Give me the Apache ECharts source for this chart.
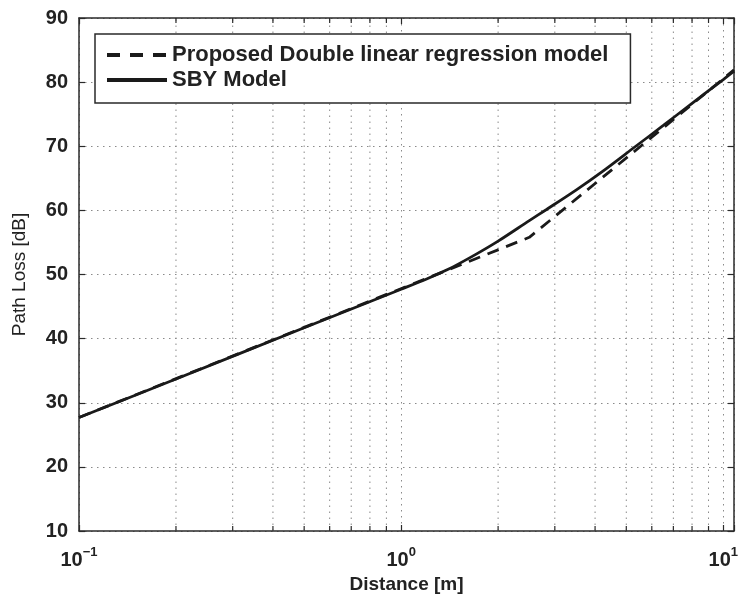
<!DOCTYPE html>
<html>
<head>
<meta charset="utf-8">
<script src="https://cdn.jsdelivr.net/npm/echarts@6/dist/echarts.min.js"></script>
<style>
  html, body { margin: 0; padding: 0; background: #ffffff; }
  #chart { width: 741px; height: 599px; }
</style>
</head>
<body>
<div id="chart"></div>
<script>
// Path loss versus distance: SBY model and the double linear regression fit
const sbyDistance = [0.1, 0.2, 0.5, 1.0, 1.2, 1.4, 1.7, 2.0, 2.5, 2.82, 3.5, 4.2, 5.35, 6.5, 8.0, 10.0, 10.8];
const sbyLoss     = [27.7, 33.7, 41.7, 47.7, 49.3, 50.8, 53.1, 55.2, 58.4, 60.1, 63.2, 66.0, 70.0, 73.2, 76.7, 80.4, 81.7];

// Double linear regression: two straight segments on the log-distance scale
const dlrDistance = [0.1, 2.5, 10.8];
const dlrLoss     = [27.7, 55.8, 81.9];

const seriesNames = ['Proposed Double linear regression model', 'SBY Model'];

// Axis ranges and minor log grid positions
const xRange = [0.1, 10.8];
const yRange = [10, 90];
const yStep = 10;
const minorTicks = [0.2, 0.3, 0.4, 0.5, 0.6, 0.7, 0.8, 0.9, 2, 3, 4, 5, 6, 7, 8, 9];

const ink = '#1a1a1a';
const axisInk = '#2a2a2a';
const gridInk = '#8a8a8a';
const font = '"Liberation Sans", Arial, Helvetica, sans-serif';

function pairs(xs, ys) { return xs.map((x, i) => [x, ys[i]]); }

function decadeLabel(v) {
  const e = Math.log10(v);
  const r = Math.round(e);
  if (Math.abs(e - r) > 1e-6) return '';
  return '{b|10}{s|' + String(r).replace('-', '\u2212') + '}';
}

const chart = echarts.init(document.getElementById('chart'), null, { renderer: 'canvas' });

chart.setOption({
  animation: false,
  backgroundColor: '#ffffff',
  textStyle: { fontFamily: font },
  grid: { left: 79, right: 5, top: 18, bottom: 61 },
  legend: {
    orient: 'vertical',
    left: 95,
    top: 34,
    padding: [10, 22, 12, 10],
    itemGap: 3,
    itemWidth: 60,
    itemHeight: 14,
    icon: 'inherit',
    backgroundColor: '#ffffff',
    borderColor: axisInk,
    borderWidth: 1.5,
    borderRadius: 0,
    textStyle: { fontFamily: font, fontSize: 22, fontWeight: 'bold', color: '#222' },
    data: [
      { name: seriesNames[0], itemStyle: { opacity: 0 }, lineStyle: { color: ink, width: 4, type: [13, 10] } },
      { name: seriesNames[1], itemStyle: { opacity: 0 }, lineStyle: { color: ink, width: 4, type: 'solid' } }
    ]
  },
  xAxis: [
    {
      type: 'log',
      logBase: 10,
      min: xRange[0],
      max: xRange[1],
      name: 'Distance [m]',
      nameLocation: 'middle',
      nameGap: 44,
      nameTextStyle: { fontFamily: font, fontSize: 19, fontWeight: 'bold', color: '#222' },
      axisLine: { show: true, lineStyle: { color: axisInk, width: 1.5 } },
      axisTick: { show: true, inside: true, length: 6, lineStyle: { color: axisInk, width: 1.2 } },
      axisLabel: {
        margin: 15,
        formatter: decadeLabel,
        rich: {
          b: { fontFamily: font, fontSize: 20, fontWeight: 'bold', color: '#222', lineHeight: 24, verticalAlign: 'bottom' },
          s: { fontFamily: font, fontSize: 13, fontWeight: 'bold', color: '#222', lineHeight: 24, verticalAlign: 'top' }
        }
      },
      splitLine: { show: true, lineStyle: { color: gridInk, width: 1, type: [1.5, 4.5] } }
    },
    {
      type: 'log',
      logBase: 10,
      min: xRange[0],
      max: xRange[1],
      position: 'top',
      axisLine: { show: true, lineStyle: { color: axisInk, width: 1.5 } },
      axisTick: { show: true, inside: true, length: 6, lineStyle: { color: axisInk, width: 1.2 } },
      axisLabel: { show: false },
      splitLine: { show: false }
    }
  ],
  yAxis: [
    {
      type: 'value',
      min: yRange[0],
      max: yRange[1],
      interval: yStep,
      name: 'Path Loss [dB]',
      nameLocation: 'middle',
      nameGap: 50,
      nameTextStyle: { fontFamily: font, fontSize: 19, color: '#222' },
      axisLine: { show: true, lineStyle: { color: axisInk, width: 1.5 } },
      axisTick: { show: true, inside: true, length: 6, lineStyle: { color: axisInk, width: 1.2 } },
      axisLabel: { margin: 11, fontFamily: font, fontSize: 20, fontWeight: 'bold', color: '#222' },
      splitLine: { show: true, lineStyle: { color: gridInk, width: 1, type: [1.5, 4.5] } }
    },
    {
      type: 'value',
      min: yRange[0],
      max: yRange[1],
      interval: yStep,
      position: 'right',
      axisLine: { show: true, lineStyle: { color: axisInk, width: 1.5 } },
      axisTick: { show: true, inside: true, length: 6, lineStyle: { color: axisInk, width: 1.2 } },
      axisLabel: { show: false },
      splitLine: { show: false }
    }
  ],
  series: [
    {
      // minor log grid lines with short ticks on the bottom and top edges
      type: 'custom',
      silent: true,
      z: 1,
      xAxisIndex: 0,
      yAxisIndex: 0,
      encode: { x: 0, y: 1 },
      data: minorTicks.map(v => [v, yRange[0]]),
      renderItem: function (params, api) {
        const v = api.value(0);
        const b = api.coord([v, yRange[0]]);
        const t = api.coord([v, yRange[1]]);
        return {
          type: 'group',
          children: [
            { type: 'line', shape: { x1: b[0], y1: b[1], x2: t[0], y2: t[1] },
              style: { stroke: gridInk, lineWidth: 1, lineDash: [1.5, 4.5] } },
            { type: 'line', shape: { x1: b[0], y1: b[1], x2: b[0], y2: b[1] - 5 },
              style: { stroke: axisInk, lineWidth: 1.2 } },
            { type: 'line', shape: { x1: t[0], y1: t[1], x2: t[0], y2: t[1] + 5 },
              style: { stroke: axisInk, lineWidth: 1.2 } }
          ]
        };
      }
    },
    {
      name: seriesNames[0],
      type: 'line',
      z: 3,
      symbol: 'none',
      smooth: false,
      data: pairs(dlrDistance, dlrLoss),
      lineStyle: { color: ink, width: 2.8, type: [12, 8] },
      itemStyle: { color: ink }
    },
    {
      name: seriesNames[1],
      type: 'line',
      z: 4,
      symbol: 'none',
      smooth: 0.3,
      data: pairs(sbyDistance, sbyLoss),
      lineStyle: { color: ink, width: 2.8, type: 'solid' },
      itemStyle: { color: ink }
    }
  ]
});
</script>
</body>
</html>
